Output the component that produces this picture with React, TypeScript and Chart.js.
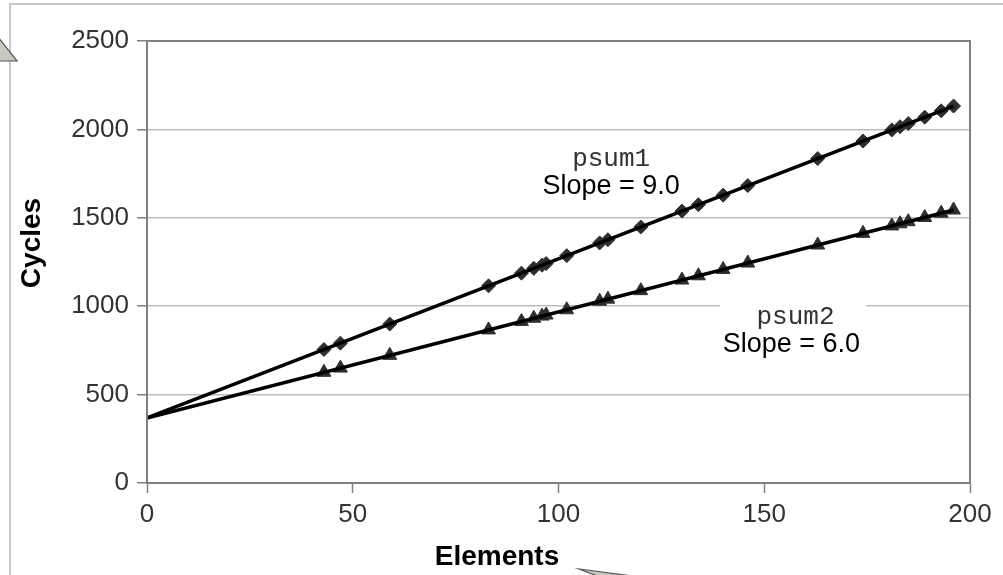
import React, { useEffect, useRef } from "react";
import { Chart, registerables } from "chart.js";

Chart.register(...registerables);

const elements = [43, 47, 59, 83, 91, 94, 96, 97, 102, 110, 112, 120, 130, 134, 140, 146, 163, 174, 181, 183, 185, 189, 193, 196];
const psum1 = [755, 791, 899, 1115, 1187, 1214, 1232, 1241, 1286, 1358, 1376, 1448, 1538, 1574, 1628, 1682, 1835, 1934, 1997, 2015, 2033, 2069, 2105, 2132];
const psum2 = [626, 650, 722, 866, 914, 932, 944, 950, 980, 1028, 1040, 1088, 1148, 1172, 1208, 1244, 1346, 1412, 1454, 1466, 1478, 1502, 1526, 1544];
const fitX = [0, 196];
const fit1 = [368, 2132];
const fit2 = [368, 1544];
const yTicks = [0, 500, 1000, 1500, 2000, 2500];
const xTicks = [0, 50, 100, 150, 200];

const SANS = "'Liberation Sans', Arial, sans-serif";
const MONO = "'Liberation Mono', 'Courier New', monospace";

const pts = (xs: number[], ys: number[]) => xs.map((x, i) => ({ x, y: ys[i] }));

const decoPlugin = {
  id: "deco",
  beforeDatasetsDraw(chart: any) {
    const { ctx, scales } = chart;
    const x = scales.x, y = scales.y;
    const l = x.getPixelForValue(139.3), r = x.getPixelForValue(174.8);
    const t = y.getPixelForValue(1047), b = y.getPixelForValue(629);
    ctx.save();
    ctx.fillStyle = "#ffffff";
    ctx.fillRect(l, t, r - l, b - t);
    ctx.restore();
  },
  afterDraw(chart: any) {
    const { ctx, scales, chartArea } = chart;
    const x = scales.x, y = scales.y;
    ctx.save();
    ctx.strokeStyle = "#808080";
    ctx.lineWidth = 2;
    ctx.strokeRect(chartArea.left, chartArea.top, chartArea.right - chartArea.left, chartArea.bottom - chartArea.top);

    ctx.textAlign = "center";
    ctx.textBaseline = "middle";
    ctx.fillStyle = "#333";
    ctx.font = `26px ${MONO}`;
    ctx.fillText("psum1", x.getPixelForValue(112.8), y.getPixelForValue(1832));
    ctx.fillText("psum2", x.getPixelForValue(157.6), y.getPixelForValue(940));
    ctx.fillStyle = "#000";
    ctx.font = `27px ${SANS}`;
    ctx.fillText("Slope = 9.0", x.getPixelForValue(112.8), y.getPixelForValue(1674));
    ctx.fillText("Slope = 6.0", x.getPixelForValue(156.6), y.getPixelForValue(782));

    ctx.fillStyle = "#000";
    ctx.font = `bold 28px ${SANS}`;
    ctx.fillText("Elements", 497, 557);
    ctx.save();
    ctx.translate(32, 243);
    ctx.rotate(-Math.PI / 2);
    ctx.fillText("Cycles", 0, 0);
    ctx.restore();

    ctx.strokeStyle = "#c8c8c8";
    ctx.lineWidth = 2;
    ctx.beginPath();
    ctx.moveTo(10, 575);
    ctx.lineTo(10, 4);
    ctx.lineTo(1003, 4);
    ctx.stroke();

    ctx.fillStyle = "#c9c9bf";
    ctx.strokeStyle = "#555";
    ctx.lineWidth = 1.2;
    ctx.beginPath();
    ctx.moveTo(-2, 37);
    ctx.lineTo(17, 61);
    ctx.lineTo(-2, 61);
    ctx.closePath();
    ctx.fill();
    ctx.stroke();

    ctx.beginPath();
    ctx.moveTo(579, 569);
    ctx.lineTo(640, 577);
    ctx.lineTo(600, 577);
    ctx.closePath();
    ctx.fill();
    ctx.stroke();
    ctx.restore();
  },
};

export default function App() {
  const ref = useRef<HTMLCanvasElement>(null);
  useEffect(() => {
    if (!ref.current) return;
    const chart = new Chart(ref.current, {
      type: "scatter",
      data: {
        datasets: [
          { label: "fit1", data: pts(fitX, fit1), showLine: true, borderColor: "#000", borderWidth: 3.5, pointRadius: 0 },
          { label: "fit2", data: pts(fitX, fit2), showLine: true, borderColor: "#000", borderWidth: 3.5, pointRadius: 0 },
          { label: "psum1", data: pts(elements, psum1), showLine: false, pointStyle: "rectRot", pointRadius: 7, backgroundColor: "#2e2e2e", borderColor: "#2e2e2e", borderWidth: 1 },
          { label: "psum2", data: pts(elements, psum2), showLine: false, pointStyle: "triangle", pointRadius: 8, backgroundColor: "#2e2e2e", borderColor: "#2e2e2e", borderWidth: 1 },
        ],
      },
      options: {
        responsive: false,
        animation: false,
        events: [],
        layout: { padding: { left: 0, top: 41, right: 33, bottom: 0 } },
        plugins: { legend: { display: false }, tooltip: { enabled: false }, title: { display: false } },
        scales: {
          x: {
            type: "linear",
            min: 0,
            max: 200,
            afterFit: (s: any) => { s.height = 92; },
            afterBuildTicks: (s: any) => { s.ticks = xTicks.map((v) => ({ value: v })); },
            grid: { drawOnChartArea: false, drawTicks: true, tickLength: 10, tickColor: "#808080", tickWidth: 1.5 },
            border: { display: true, color: "#808080", width: 2 },
            ticks: { padding: 6, color: "#333", font: { family: SANS, size: 26 }, maxRotation: 0, callback: (v: any) => String(v) },
          },
          y: {
            type: "linear",
            min: 0,
            max: 2500,
            afterFit: (s: any) => { s.width = 147; },
            afterBuildTicks: (s: any) => { s.ticks = yTicks.map((v) => ({ value: v })); },
            grid: { color: "#bdbdbd", lineWidth: 1.5, drawTicks: true, tickLength: 10, tickColor: "#808080", tickWidth: 1.5 },
            border: { display: true, color: "#808080", width: 2 },
            ticks: { padding: 8, color: "#333", font: { family: SANS, size: 26 }, callback: (v: any) => String(v) },
          },
        },
      },
      plugins: [decoPlugin],
    });
    return () => chart.destroy();
  }, []);
  return (
    <div style={{ position: "fixed", left: 0, top: 0, width: 1003, height: 575, background: "#fff" }}>
      <canvas ref={ref} width={1003} height={575} />
    </div>
  );
}
